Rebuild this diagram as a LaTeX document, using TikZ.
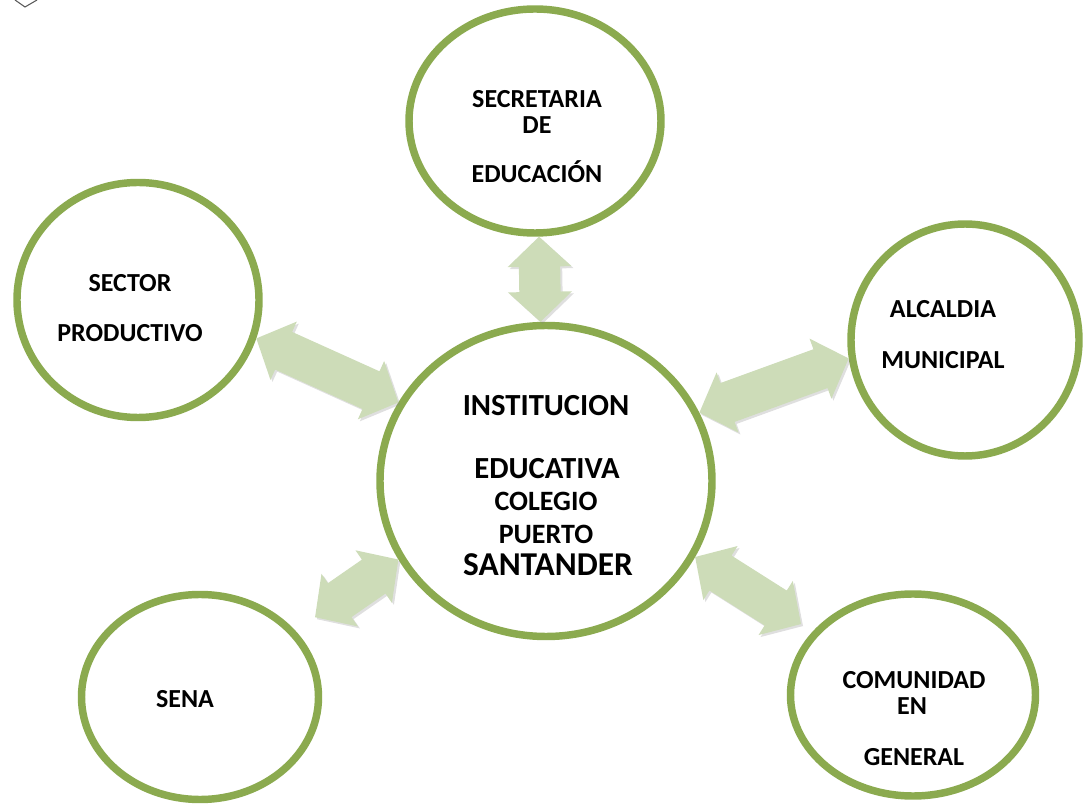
\documentclass[tikz,border=0pt]{standalone}
\usepackage{fontspec}
\setmainfont{Carlito}
\usetikzlibrary{shapes.geometric,calc,shadows}

\definecolor{ringgreen}{RGB}{139,170,79}
\definecolor{arrowgreen}{RGB}{205,220,184}

\tikzset{
  ring/.style={ellipse, draw=ringgreen, line width=5.6pt, fill=white, inner sep=0pt,
    drop shadow={opacity=0.2, shadow xshift=1.5pt, shadow yshift=-1.5pt}},
  lbl/.style={anchor=base, font=\bfseries\fontsize{19.5pt}{19.5pt}\selectfont},
  biglbl/.style={anchor=base, font=\bfseries\fontsize{23pt}{23pt}\selectfont},
  blockarrow/.style={fill=arrowgreen,
    drop shadow={opacity=0.25, shadow xshift=1.5pt, shadow yshift=-1.5pt}}
}

% fat double-headed arrow between two named points
\newcommand\dblarrow[2]{%
  \path ($(#1)!22.5pt!(#2)$) coordinate (ha) ($(#2)!22.5pt!(#1)$) coordinate (hb);
  \path[blockarrow] (#1) -- ($(ha)!24pt!90:(#2)$) -- ($(ha)!15.5pt!90:(#2)$)
    -- ($(hb)!15.5pt!-90:(#1)$) -- ($(hb)!24pt!-90:(#1)$) -- (#2)
    -- ($(hb)!24pt!90:(#1)$) -- ($(hb)!15.5pt!90:(#1)$)
    -- ($(ha)!15.5pt!-90:(#2)$) -- ($(ha)!24pt!-90:(#2)$) -- cycle;
}

\begin{document}
\begin{tikzpicture}[x=0.75pt,y=-0.75pt]
  \useasboundingbox (0,0) rectangle (1083,805);

  \draw[gray!70!black, line width=0.8pt] (15,0) -- (25,7) -- (37,0);

  % circles
  \node[ring, minimum width=249pt, minimum height=233.25pt] (inst) at (546,481) {};
  \node[ring, minimum width=189pt, minimum height=168pt] (secr) at (535,121) {};
  \node[ring, minimum width=181.5pt, minimum height=176.25pt] (sector) at (138,300) {};
  \node[ring, minimum width=171pt, minimum height=174pt] (alc) at (965,340) {};
  \node[ring, minimum width=177.75pt, minimum height=153.75pt] (sena) at (200,697) {};
  \node[ring, minimum width=183.75pt, minimum height=151.5pt] (comu) at (913,695) {};

  % labels
  \node[biglbl] (inst1) at (546,416) {INSTITUCION};
  \node[biglbl] (inst2) at (547,479) {EDUCATIVA};
  \node[biglbl, font=\bfseries\fontsize{21pt}{21pt}\selectfont] (inst3) at (546,511) {COLEGIO};
  \node[biglbl, font=\bfseries\fontsize{21pt}{21pt}\selectfont] (inst4) at (546,544) {PUERTO};
  \node[biglbl, font=\bfseries\fontsize{25pt}{25pt}\selectfont] (inst5) at (548,576) {SANTANDER};

  \node[lbl] (secr1) at (537,108) {SECRETARIA};
  \node[lbl] (secr2) at (537,134) {DE};
  \node[lbl] (secr3) at (537,183) {EDUCACIÓN};
  \node[lbl] (sector1) at (130,292) {SECTOR};
  \node[lbl] (sector2) at (130,342) {PRODUCTIVO};
  \node[lbl] (alc1) at (943,318) {ALCALDIA};
  \node[lbl] (alc2) at (943,369) {MUNICIPAL};
  \node[lbl] (sena1) at (185,708) {SENA};
  \node[lbl] (comu1) at (914,689) {COMUNIDAD};
  \node[lbl] (comu2) at (912,715) {EN};
  \node[lbl] (comu3) at (914,765) {GENERAL};

  % arrows
  \coordinate (senatip) at ($(inst.208)!76pt!(sena.center)$);
  \coordinate (comutip) at ($(inst.333)!94pt!(comu.center)$);
  \dblarrow{secr.272}{inst.92}
  \dblarrow{sector.-18}{inst.152}
  \dblarrow{inst.24}{alc.189}
  \dblarrow{inst.208}{senatip}
  \dblarrow{inst.333}{comutip}
\end{tikzpicture}
\end{document}
